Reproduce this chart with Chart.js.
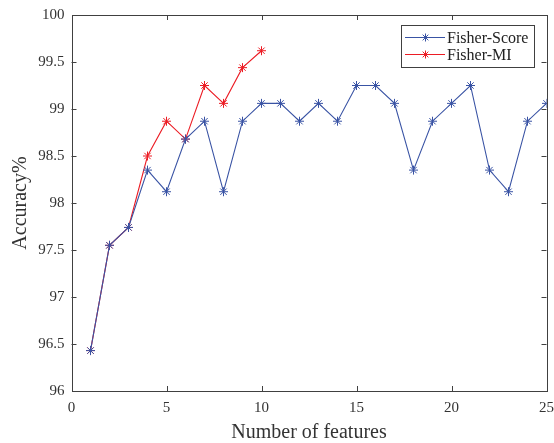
<!DOCTYPE html>
<html>
<head>
<meta charset="utf-8">
<script src="https://cdn.jsdelivr.net/npm/chart.js@4/dist/chart.umd.min.js"></script>
<style>
  html, body { margin: 0; padding: 0; background: #fff; }
  #wrap { width: 554px; height: 443px; }
</style>
</head>
<body>
<div id="wrap"><canvas id="mychart"></canvas></div>
<script>
// number of features on the x axis
const features = [1, 2, 3, 4, 5, 6, 7, 8, 9, 10, 11, 12, 13, 14, 15, 16, 17, 18, 19, 20, 21, 22, 23, 24, 25];
const fisherScore = [96.43, 97.55, 97.74, 98.35, 98.12, 98.68, 98.87, 98.12, 98.87, 99.06,
  99.06, 98.87, 99.06, 98.87, 99.25, 99.25, 99.06, 98.35, 98.87, 99.06, 99.25, 98.35, 98.12, 98.87, 99.06];
const fisherMI = [96.43, 97.55, 97.74, 98.5, 98.87, 98.68, 99.25, 99.06, 99.44, 99.62];
const seriesNames = ["Fisher-Score", "Fisher-MI"];
const xTicks = [0, 5, 10, 15, 20, 25];
const yTicks = [96, 96.5, 97, 97.5, 98, 98.5, 99, 99.5, 100];

const blue = "rgb(57, 83, 164)";
const red = "rgb(236, 28, 36)";
const axisColor = "#404040";
const serif = "'Liberation Serif', 'DejaVu Serif', serif";
Chart.defaults.font.family = serif;

function toPoints(vals) {
  return vals.map((v, i) => ({ x: features[i], y: v }));
}

// matlab-like box with inward ticks + boxed legend
const boxPlugin = {
  id: "box",
  afterDraw(chart) {
    const c = chart.ctx;
    const a = chart.chartArea;
    const xs = chart.scales.x, ys = chart.scales.y;
    c.save();
    c.strokeStyle = axisColor;
    c.lineWidth = 1;
    c.strokeRect(Math.round(a.left) + 0.5, Math.round(a.top) + 0.5,
      Math.round(a.right - a.left), Math.round(a.bottom - a.top));
    c.beginPath();
    xTicks.slice(1, -1).forEach(t => {
      const px = Math.round(xs.getPixelForValue(t)) + 0.5;
      c.moveTo(px, a.bottom); c.lineTo(px, a.bottom - 5);
      c.moveTo(px, a.top); c.lineTo(px, a.top + 5);
    });
    yTicks.slice(1, -1).forEach(t => {
      const py = Math.round(ys.getPixelForValue(t)) + 0.5;
      c.moveTo(a.left, py); c.lineTo(a.left + 5, py);
      c.moveTo(a.right, py); c.lineTo(a.right - 5, py);
    });
    c.stroke();

    // legend
    const lx = 401, ly = 25, lw = 133, lh = 42;
    c.fillStyle = "#fff";
    c.fillRect(lx, ly, lw, lh);
    c.strokeStyle = axisColor;
    c.strokeRect(lx + 0.5, ly + 0.5, lw, lh);
    c.font = "16px " + serif;
    c.textBaseline = "middle";
    chart.data.datasets.forEach((ds, i) => {
      const y = ly + 12.5 + i * 17;
      c.strokeStyle = ds.borderColor;
      c.lineWidth = 1;
      c.beginPath();
      c.moveTo(405, y); c.lineTo(445, y);
      c.stroke();
      Chart.helpers.drawPoint(c, { pointStyle: "star", radius: 4, borderWidth: 1 }, 425.5, y);
      c.fillStyle = "#222";
      c.fillText(ds.label, 447, y + 1);
    });
    c.restore();
  }
};

const ctx = document.getElementById("mychart").getContext("2d");
const myChart = new Chart(ctx, {
  type: "line",
  data: {
    datasets: [
      {
        label: seriesNames[0],
        data: toPoints(fisherScore),
        borderColor: blue,
        backgroundColor: blue,
        borderWidth: 1.1,
        pointStyle: "star",
        pointRadius: 4.5,
        pointBorderWidth: 1,
        pointBorderColor: blue,
        tension: 0,
      },
      {
        label: seriesNames[1],
        data: toPoints(fisherMI),
        borderColor: red,
        backgroundColor: red,
        borderWidth: 1.1,
        pointStyle: "star",
        pointRadius: 4.5,
        pointBorderWidth: 1,
        pointBorderColor: red,
        tension: 0,
      },
    ],
  },
  options: {
    responsive: true,
    maintainAspectRatio: false,
    animation: false,
    layout: { padding: { left: 0, right: 7.5, top: 15, bottom: -4 } },
    plugins: {
      legend: { display: false },
      tooltip: { enabled: false },
    },
    scales: {
      x: {
        type: "linear",
        min: 0,
        max: 25,
        afterBuildTicks: s => { s.ticks = xTicks.map(v => ({ value: v })); },
        afterFit: s => { s.height = 56; s.paddingLeft = 0; s.paddingRight = 0; },
        grid: { display: false, drawTicks: false },
        border: { display: false },
        ticks: { color: "#333", padding: 8, font: { family: serif, size: 15 }, callback: v => String(v) },
        title: {
          display: true,
          text: "Number of features",
          color: "#333",
          font: { family: serif, size: 20 },
          padding: { top: 0, bottom: 2 },
        },
      },
      y: {
        min: 96,
        max: 100,
        afterBuildTicks: s => { s.ticks = yTicks.map(v => ({ value: v })); },
        afterFit: s => { s.width = 71.5; s.paddingTop = 0; s.paddingBottom = 0; },
        grid: { display: false, drawTicks: false },
        border: { display: false },
        ticks: { color: "#333", padding: 7, font: { family: serif, size: 15 }, callback: v => String(v) },
        title: {
          display: true,
          text: "Accuracy%",
          color: "#333",
          font: { family: serif, size: 20 },
          padding: { top: 9, bottom: 6 },
        },
      },
    },
  },
  plugins: [boxPlugin],
});
</script>
</body>
</html>
